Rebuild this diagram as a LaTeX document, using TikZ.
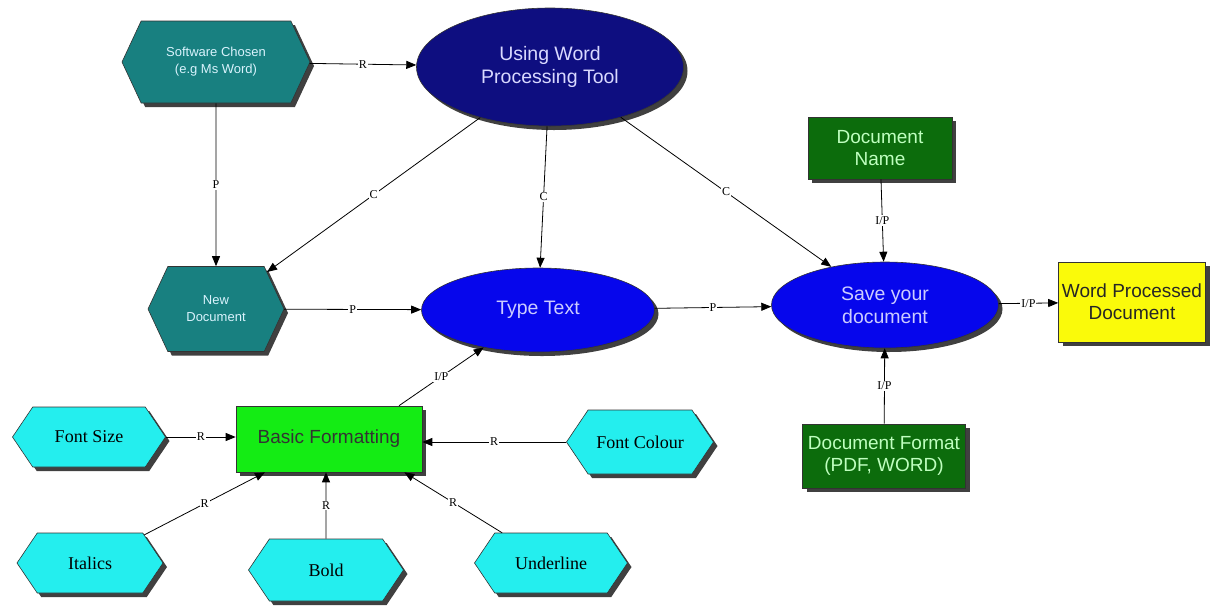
\documentclass[tikz,border=0pt]{standalone}
\usepackage{fontspec}
\setmainfont{Liberation Sans}
\newfontfamily\serifface{Liberation Serif}
\usetikzlibrary{shapes.geometric,shapes.symbols,shadows,arrows.meta}

\definecolor{tealbox}{RGB}{24,128,128}
\definecolor{navyell}{RGB}{14,14,128}
\definecolor{blueell}{RGB}{6,6,236}
\definecolor{darkgreen}{RGB}{12,108,12}
\definecolor{brightgreen}{RGB}{20,236,20}
\definecolor{cyanhex}{RGB}{36,238,238}
\definecolor{yellowbox}{RGB}{250,250,10}

\tikzset{
  shade drop/.style={drop shadow={shadow xshift=4pt,shadow yshift=-4pt,opacity=1,fill=black!75}},
  hexbox/.style={signal, signal to=east and west, draw=black!80, line width=0.6pt,
    inner sep=0pt, align=center, shade drop},
  darkhex/.style={hexbox, fill=tealbox, signal pointer angle=130,
    text=cyan!15, font=\fontsize{13}{17}\selectfont},
  lighthex/.style={hexbox, fill=cyanhex, signal pointer angle=112,
    text=black, font=\serifface\fontsize{18}{20}\selectfont},
  oval/.style={ellipse, draw=black!80, line width=0.6pt, inner sep=0pt, align=center,
    shade drop, font=\fontsize{19.5}{23}\selectfont},
  card/.style={rectangle, draw=black!80, line width=0.6pt, inner sep=0pt, align=center,
    shade drop, font=\fontsize{19}{22}\selectfont},
  link/.style={draw=black, line width=0.8pt, -{Triangle[length=10pt,width=8pt]}},
  lbl/.style={fill=white, inner sep=1pt, font=\serifface\fontsize{12}{13}\selectfont}
}

\begin{document}
\begin{tikzpicture}[x=1pt,y=-1pt]
\useasboundingbox (0,0) rectangle (1213,611);

% process nodes
\node[darkhex, minimum width=188pt, minimum height=82pt] (sw) at (216,62)
  {Software Chosen\\(e.g Ms Word)};
\node[oval, fill=navyell, text=blue!15, minimum width=267pt, minimum height=118pt] (uw) at (550,67)
  {Using Word\\Processing Tool};
\node[darkhex, minimum width=136pt, minimum height=85pt] (nd) at (216,309)
  {New\\Document};
\node[oval, fill=blueell, text=blue!20, minimum width=233pt, minimum height=84pt] (tt) at (538,310)
  {Type Text};
\node[oval, fill=blueell, text=blue!20, minimum width=227pt, minimum height=86pt] (sv) at (885,305)
  {Save your\\document};
\node[card, fill=darkgreen, text=green!25, minimum width=144pt, minimum height=62pt] (dn) at (880,148)
  {Document\\Name};
\node[card, fill=darkgreen, text=green!25, minimum width=163pt, minimum height=64pt] (df) at (884,456)
  {Document Format\\(PDF, WORD)};
\node[card, fill=yellowbox, text=black!85, minimum width=147pt, minimum height=80pt] (wp) at (1132,302)
  {Word Processed\\Document};
\node[card, fill=brightgreen, text=black!80, minimum width=186pt, minimum height=66pt] (bf) at (329,439)
  {Basic Formatting};

% formatting options
\node[lighthex, minimum width=153pt, minimum height=60pt] (fs) at (89,437) {Font Size};
\node[lighthex, minimum width=147pt, minimum height=64pt] (fc) at (640,442) {Font Colour};
\node[lighthex, minimum width=146pt, minimum height=60pt] (it) at (90,563) {Italics};
\node[lighthex, minimum width=155pt, minimum height=62pt] (bo) at (326,570) {Bold};
\node[lighthex, minimum width=153pt, minimum height=60pt] (ul) at (551,563) {Underline};

% connectors
\draw[link] (sw) -- node[lbl] {R} (uw);
\draw[link] (sw) -- node[lbl] {P} (nd);
\draw[link] (uw) -- node[lbl] {C} (nd);
\draw[link] (uw) -- node[lbl] {C} (tt);
\draw[link] (uw) -- node[lbl] {C} (sv);
\draw[link] (nd) -- node[lbl] {P} (tt);
\draw[link] (tt) -- node[lbl] {P} (sv);
\draw[link] (dn) -- node[lbl] {I/P} (sv);
\draw[link] (df) -- node[lbl] {I/P} (sv);
\draw[link] (sv) -- node[lbl] {I/P} (wp);
\draw[link] ([xshift=70pt]bf.north) -- node[lbl] {I/P} (tt);
\draw[link] (fs.east) -- node[lbl] {R} (fs.east -| bf.west);
\draw[link] (fc.west) -- node[lbl] {R} (fc.west -| bf.east);
\draw[link] (it) -- node[lbl] {R} ([xshift=-64pt]bf.south);
\draw[link] (bo) -- node[lbl] {R} (bo |- bf.south);
\draw[link] (ul) -- node[lbl] {R} ([xshift=-18pt]bf.south east);
\end{tikzpicture}
\end{document}
